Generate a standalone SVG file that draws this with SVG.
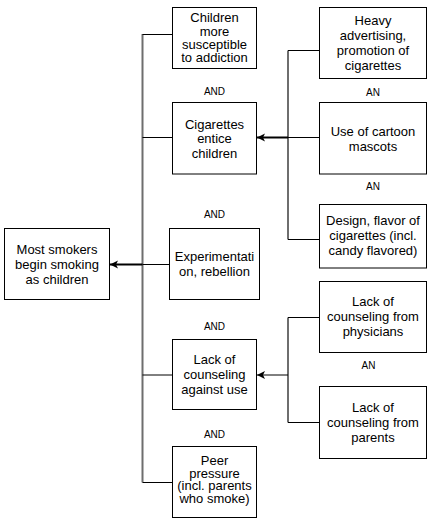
<svg xmlns="http://www.w3.org/2000/svg" width="434" height="524" viewBox="0 0 434 524">
<defs>
<marker id="arr" markerUnits="userSpaceOnUse" markerWidth="9" markerHeight="9" viewBox="0 0 9 9" refX="8" refY="4.5" orient="auto">
<path d="M0,0.5 L8,4.5 L0,8.5 L2,4.5 Z" fill="#000"/>
</marker>
<style>
.box{fill:#fff;stroke:#000;stroke-width:1}
.t{font-family:"Liberation Sans",Arial,sans-serif;font-size:13px;fill:#000;text-anchor:middle}
.lbl{font-family:"Liberation Sans",Arial,sans-serif;font-size:10px;fill:#000;text-anchor:middle}
.trunk{stroke:#6e6e6e;stroke-width:2;fill:none}
.br{stroke:#000;stroke-width:1;fill:none}
.main{stroke:#000;stroke-width:2;fill:none}
</style>
</defs>
<rect width="434" height="524" fill="#fff"/>
<g id="connectors">
<line class="trunk" x1="142.5" y1="34" x2="142.5" y2="482.5"/>
<path class="br" d="M142.5,34.5 H172.5 M142.5,137.5 H172.5 M142.5,375 H172.5 M142.5,482.5 H172.5 M169.5,264.5 H142.5"/>
<path class="main" d="M142.5,264.5 H110" marker-end="url(#arr)"/>
<line class="trunk" x1="288" y1="50.5" x2="288" y2="239.5"/>
<path class="br" d="M288,50.5 H319.5 M288,239.5 H319.5 M319.5,137.5 H288"/>
<path class="main" d="M288,137.5 H257" marker-end="url(#arr)"/>
<line class="trunk" x1="288" y1="317.5" x2="288" y2="422.5"/>
<path class="br" d="M288,317.5 H319.5 M288,422.5 H319.5"/>
<path class="br" d="M288,375 H257" marker-end="url(#arr)"/>
</g>
<g id="n-most">
<rect class="box" x="4.5" y="228.5" width="105" height="71"/>
<text class="t" x="57" y="254">Most smokers</text>
<text class="t" x="57" y="269">begin smoking</text>
<text class="t" x="57" y="284">as children</text>
</g>
<g id="n-children">
<rect class="box" x="172.5" y="7.5" width="84" height="61"/>
<text class="t" x="214.5" y="22">Children</text>
<text class="t" x="214.5" y="36">more</text>
<text class="t" x="214.5" y="49">susceptible</text>
<text class="t" x="214.5" y="62">to addiction</text>
</g>
<g id="n-entice">
<rect class="box" x="172.5" y="102.5" width="84" height="71.5"/>
<text class="t" x="214.5" y="128.5">Cigarettes</text>
<text class="t" x="214.5" y="143">entice</text>
<text class="t" x="214.5" y="158">children</text>
</g>
<g id="n-exp">
<rect class="box" x="169.5" y="228.5" width="90" height="71"/>
<text class="t" x="214.5" y="261">Experimentati</text>
<text class="t" x="214.5" y="276">on, rebellion</text>
</g>
<g id="n-lack">
<rect class="box" x="172.5" y="339.5" width="84" height="70"/>
<text class="t" x="214.5" y="363.5">Lack of</text>
<text class="t" x="214.5" y="378.5">counseling</text>
<text class="t" x="214.5" y="393.5">against use</text>
</g>
<g id="n-peer">
<rect class="box" x="172.5" y="446.5" width="84" height="71"/>
<text class="t" x="214.5" y="465">Peer</text>
<text class="t" x="214.5" y="477.5">pressure</text>
<text class="t" x="214.5" y="490">(incl. parents</text>
<text class="t" x="214.5" y="502.5">who smoke)</text>
</g>
<g id="n-heavy">
<rect class="box" x="319.5" y="7.5" width="107" height="71"/>
<text class="t" x="373" y="25">Heavy</text>
<text class="t" x="373" y="40">advertising,</text>
<text class="t" x="373" y="55">promotion of</text>
<text class="t" x="373" y="70">cigarettes</text>
</g>
<g id="n-cartoon">
<rect class="box" x="319.5" y="102.5" width="107" height="71.5"/>
<text class="t" x="373" y="136">Use of cartoon</text>
<text class="t" x="373" y="151">mascots</text>
</g>
<g id="n-design">
<rect class="box" x="319.5" y="204.5" width="107" height="63.5"/>
<text class="t" x="373" y="225">Design, flavor of</text>
<text class="t" x="373" y="240">cigarettes (incl.</text>
<text class="t" x="373" y="255">candy flavored)</text>
</g>
<g id="n-phys">
<rect class="box" x="319.5" y="281.5" width="107" height="71"/>
<text class="t" x="373" y="306">Lack of</text>
<text class="t" x="373" y="321">counseling from</text>
<text class="t" x="373" y="336">physicians</text>
</g>
<g id="n-parents">
<rect class="box" x="319.5" y="386.5" width="107" height="72"/>
<text class="t" x="373" y="411.5">Lack of</text>
<text class="t" x="373" y="426.5">counseling from</text>
<text class="t" x="373" y="441.5">parents</text>
</g>
<g id="labels">
<text class="lbl" x="214.5" y="94.5">AND</text>
<text class="lbl" x="214.5" y="217.5">AND</text>
<text class="lbl" x="214.5" y="329.5">AND</text>
<text class="lbl" x="214.5" y="438">AND</text>
<text class="lbl" x="373" y="96">AN</text>
<text class="lbl" x="373" y="190">AN</text>
<text class="lbl" x="368.5" y="369">AN</text>
</g>
</svg>
